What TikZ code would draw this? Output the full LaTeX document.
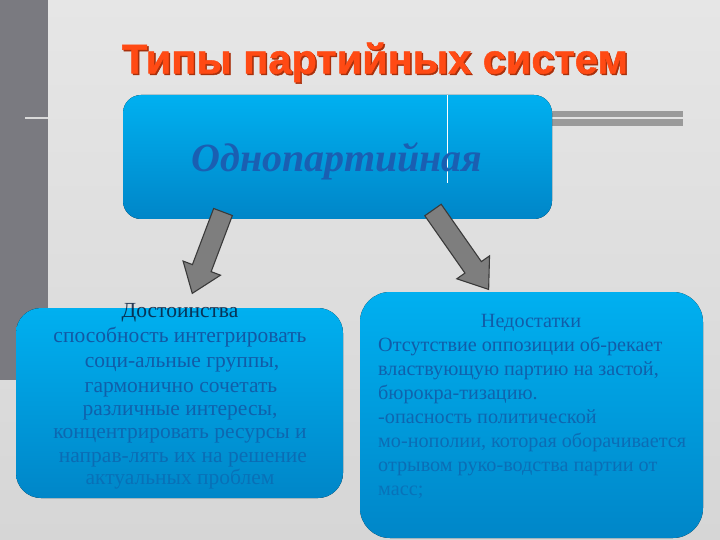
\documentclass[tikz,border=0pt]{standalone}
\usepackage{fontspec}
\setmainfont{Liberation Serif}
\newfontfamily\titlefont[FakeBold=1.2]{Liberation Sans Bold}
\definecolor{bgtop}{HTML}{E6E6E6}
\definecolor{bgbot}{HTML}{D6D6D6}
\definecolor{strip}{HTML}{7A7A80}
\definecolor{bartop}{HTML}{9A9A9A}
\definecolor{boxtop}{HTML}{00B0F0}
\definecolor{boxbot}{HTML}{0086C8}
\definecolor{titlered}{HTML}{FF4A14}
\definecolor{titleshadow}{HTML}{A8300C}
\definecolor{headblue}{HTML}{1A5FB2}
\definecolor{txtblue}{HTML}{164A98}
\definecolor{arrowfill}{HTML}{7E7E7E}
\definecolor{arrowline}{HTML}{3A3A3A}
\tikzset{
  bluebox/.style={top color=boxtop, bottom color=boxbot, draw=none},
  blockarrow/.style={fill=arrowfill, draw=arrowline, line width=1.1pt, line join=miter},
  ltxt/.style={anchor=base, inner sep=0pt, text=txtblue, font=\fontsize{21.5}{23}\selectfont},
  rtxt/.style={anchor=base west, inner sep=0pt, text=txtblue, font=\fontsize{20.2}{23}\selectfont},
  titletxt/.style={anchor=base, inner sep=0pt, font=\titlefont\fontsize{41.5}{44}\selectfont},
}
\begin{document}
\begin{tikzpicture}[x=1pt,y=-1pt]
\useasboundingbox (0,0) rectangle (720,540);
% background
\shade[top color=bgtop, bottom color=bgbot] (0,0) rectangle (720,540);
\fill[strip] (0,0) rectangle (48,380);
\draw[color=black!15, line width=1.5pt] (25,118) -- (48,118);
\fill[bartop] (552,111) rectangle (683,117);
\fill[bartop] (552,119) rectangle (683,126);
% title
\node[titletxt, text=titleshadow] (titlesh) at (376.5,75) {Типы партийных систем};
\node[titletxt, text=titlered] (title) at (375,73.5) {Типы партийных систем};
% top box
\fill[bluebox, rounded corners=18pt] (123,95) rectangle (552,219);
\coordinate (topbox) at (337,157);
\draw[white, line width=0.8pt] (447,95) -- (447,183);
\node[anchor=base, inner sep=0pt, text=headblue, font=\bfseries\itshape\fontsize{40}{42}\selectfont] (toptext) at (337,172) {Однопартийная};
% lower boxes
\fill[bluebox, rounded corners=25pt] (16,308) rectangle (343,498);
\fill[bluebox, rounded corners=30pt] (360,292) rectangle (703,538);
% arrows
\begin{scope}[shift={(223,212)}, rotate=249.3]
  \draw[blockarrow] (0,-10) -- (60,-10) -- (60,-20) -- (87,0) -- (60,20) -- (60,10) -- (0,10) -- cycle;
\end{scope}
\begin{scope}[shift={(433,210)}, rotate=-55]
  \draw[blockarrow] (0,-10) -- (70,-10) -- (70,-20) -- (97,0) -- (70,20) -- (70,10) -- (0,10) -- cycle;
\end{scope}
% left text
\node[ltxt, text=black!60!txtblue, text opacity=0.85] (l1) at (180,317) {Достоинства};
\node[ltxt, text opacity=0.85] (l2) at (180,342) {способность интегрировать};
\node[ltxt, text opacity=0.8] (l3) at (182,367) {соци-альные группы,};
\node[ltxt, text opacity=0.75] (l4) at (181,392) {гармонично сочетать};
\node[ltxt, text opacity=0.7] (l5) at (180,415) {различные интересы,};
\node[ltxt, text opacity=0.6] (l6) at (180,438) {концентрировать ресурсы и};
\node[ltxt, text opacity=0.5] (l7) at (183,462) {направ-лять их на решение};
\node[ltxt, text opacity=0.4] (l8) at (180,484) {актуальных проблем};
% right text
\node[ltxt, font=\fontsize{20.2}{23}\selectfont, text opacity=0.8] (r1) at (531,327) {Недостатки};
\node[rtxt, text opacity=0.8] (r2) at (378,351) {Отсутствие оппозиции об-рекает};
\node[rtxt, text opacity=0.75] (r3) at (378,375) {властвующую партию на застой,};
\node[rtxt, text opacity=0.7] (r4) at (378,399) {бюрокра-тизацию.};
\node[rtxt, text opacity=0.65] (r5) at (378,423) {-опасность политической};
\node[rtxt, text opacity=0.55] (r6) at (378,447) {мо-нополии, которая оборачивается};
\node[rtxt, text opacity=0.5] (r7) at (378,471) {отрывом руко-водства партии от};
\node[rtxt, text opacity=0.4] (r8) at (378,495) {масс;};
\end{tikzpicture}
\end{document}
